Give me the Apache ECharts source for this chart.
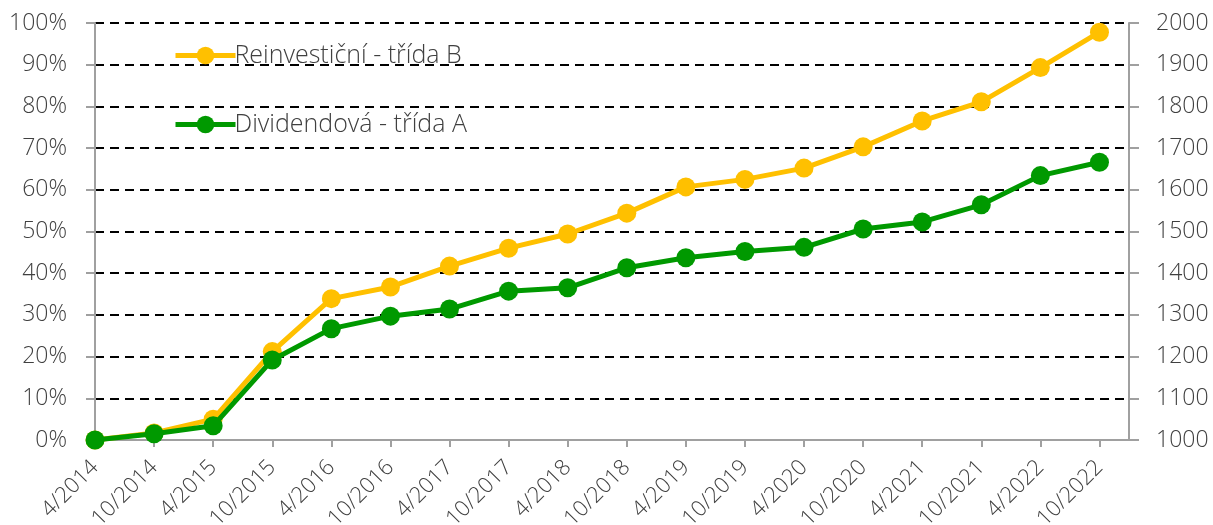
<!DOCTYPE html>
<html>
<head>
<meta charset="utf-8">
<script src="https://cdn.jsdelivr.net/npm/echarts@6/dist/echarts.min.js"></script>
<style>
html,body{margin:0;padding:0;background:#fff;}
#chart{width:1213px;height:525px;}
</style>
</head>
<body>
<div id="chart"></div>
<script>
const categories = ['4/2014','10/2014','4/2015','10/2015','4/2016','10/2016','4/2017','10/2017','4/2018','10/2018','4/2019','10/2019','4/2020','10/2020','4/2021','10/2021','4/2022','10/2022'];
const reinvestValues = [0, 1.7, 5.0, 21.2, 33.9, 36.7, 41.7, 46.0, 49.4, 54.4, 60.7, 62.5, 65.2, 70.3, 76.5, 81.1, 89.3, 97.8];
const dividendValues = [0, 1.5, 3.4, 19.2, 26.7, 29.7, 31.4, 35.7, 36.5, 41.3, 43.7, 45.2, 46.2, 50.6, 52.3, 56.4, 63.4, 66.6];
const seriesNames = ['Reinvestiční - třída B', 'Dividendová - třída A'];
const seriesColors = ['#FFC000', '#009900'];
const leftTicks = {min: 0, max: 100, interval: 10};
const rightTicks = {min: 1000, max: 2000, interval: 100};

const FONT = 'Open Sans';
const TXT = '#404040';
const AXIS = '#a0a0a0';

const chart = echarts.init(document.getElementById('chart'));
chart.setOption({
  animation: false,
  backgroundColor: '#fff',
  grid: {left: 95, right: 84, top: 23, bottom: 85, containLabel: false, outerBoundsMode: 'none'},
  legend: {
    orient: 'vertical',
    left: 168,
    top: 38,
    itemWidth: 60,
    itemHeight: 22,
    itemGap: 44,
    data: seriesNames.map((n, i) => ({name: n, lineStyle: {width: 5, color: seriesColors[i]}, itemStyle: {color: seriesColors[i]}})),
    textStyle: {fontFamily: FONT, fontWeight: 300, fontSize: 25, color: TXT, padding: [0,0,0,-6]}
  },
  xAxis: {
    type: 'value',
    min: 0,
    max: categories.length - 0.5,
    interval: 1,
    axisLine: {show: true, lineStyle: {color: AXIS, width: 2}},
    axisTick: {show: true, length: 7, lineStyle: {color: AXIS, width: 2}},
    splitLine: {show: false},
    axisLabel: {
      rotate: 45,
      margin: 24,
      fontFamily: FONT, fontWeight: 300, fontSize: 22, color: TXT,
      showMaxLabel: false,
      formatter: function (v) { return categories[v] !== undefined ? categories[v] : ''; }
    }
  },
  yAxis: [
    {
      type: 'value',
      position: 'left',
      min: leftTicks.min, max: leftTicks.max, interval: leftTicks.interval,
      axisLine: {show: true, lineStyle: {color: AXIS, width: 2}},
      axisTick: {show: true, length: 9, lineStyle: {color: AXIS, width: 2}},
      splitLine: {show: true, showMinLine: false, lineStyle: {color: '#000', width: 2, type: [9, 6]}},
      axisLabel: {margin: 28, fontFamily: FONT, fontWeight: 300, fontSize: 23, color: TXT, formatter: '{value}%'}
    },
    {
      type: 'value',
      position: 'right',
      min: rightTicks.min, max: rightTicks.max, interval: rightTicks.interval,
      axisLine: {show: true, lineStyle: {color: AXIS, width: 2}},
      axisTick: {show: true, length: 10, lineStyle: {color: AXIS, width: 2}},
      splitLine: {show: false},
      axisLabel: {margin: 27, fontFamily: FONT, fontWeight: 300, fontSize: 23, color: TXT, formatter: function (v) { return String(v); }}
    }
  ],
  series: [
    {
      name: seriesNames[0],
      type: 'line',
      yAxisIndex: 0,
      data: reinvestValues.map((v, i) => [i, v]),
      symbol: 'circle',
      symbolSize: 19,
      lineStyle: {color: seriesColors[0], width: 5},
      itemStyle: {color: seriesColors[0]},
      z: 3
    },
    {
      name: seriesNames[1],
      type: 'line',
      yAxisIndex: 0,
      data: dividendValues.map((v, i) => [i, v]),
      symbol: 'circle',
      symbolSize: 19,
      lineStyle: {color: seriesColors[1], width: 5},
      itemStyle: {color: seriesColors[1]},
      z: 4
    }
  ]
});
</script>
</body>
</html>
